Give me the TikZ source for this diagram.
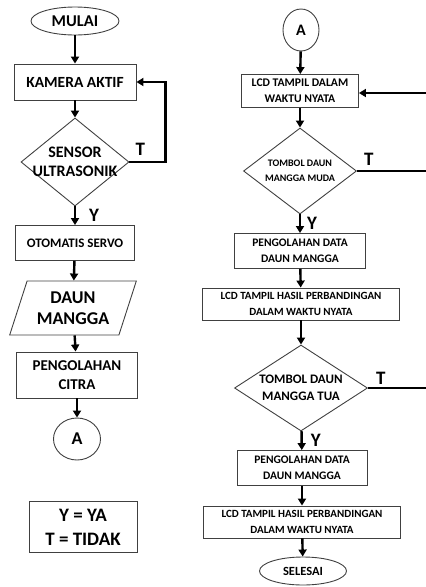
\documentclass[tikz,border=0pt]{standalone}
\usepackage{fontspec}
\setmainfont{Carlito}
\usetikzlibrary{shapes.geometric,arrows.meta}

\begin{document}
\begin{tikzpicture}[
    x=1pt, y=-1pt,
    txt/.style 2 args={font=\fontsize{#1}{#2}\selectfont\bfseries},
    terminal/.style={ellipse, draw=black!75, line width=0.9pt, inner sep=0pt},
    process/.style={rectangle, draw=black!75, line width=0.9pt, inner sep=0pt, align=center},
    decision/.style={diamond, draw=black!75, line width=0.9pt, inner sep=0pt},
    inout/.style={trapezium, trapezium left angle=67, trapezium right angle=113,
      trapezium stretches=true, draw=black!75, line width=0.9pt, inner sep=0pt, align=center},
    flow/.style={-{Triangle[width=8pt,length=7pt]}, line width=2.4pt},
    branch/.style={line width=2.4pt},
    answer/.style={txt={19}{19}, inner sep=0pt}
  ]
  \useasboundingbox (0,0) rectangle (426,587);

  % Left column: start, camera, sensor, servo, input, processing
  \node[terminal, minimum width=88pt, minimum height=28pt, txt={16.5}{18}] (mulai) at (75,21) {MULAI};
  \node[process, minimum width=122pt, minimum height=36pt, txt={15.5}{18}] (kamera) at (75,82) {KAMERA AKTIF};
  \node[decision, minimum width=108pt, minimum height=88pt,
    label={[align=center, txt={16}{18.5}]center:SENSOR\\ULTRASONIK}] (sensor) at (75,162) {};
  \node[process, minimum width=119pt, minimum height=35pt, txt={13}{15}] (servo) at (75,243) {OTOMATIS SERVO};
  \node[inout, minimum width=127pt, minimum height=54pt, txt={18}{20.5}] (daun) at (73,308) {DAUN\\MANGGA};
  \node[process, minimum width=121pt, minimum height=46pt, txt={15}{18.5}] (citra) at (77,375) {PENGOLAHAN\\CITRA};
  \node[terminal, minimum width=47pt, minimum height=42pt, txt={18}{20}] (konA) at (77,439) {A};

  % Legend
  \node[process, minimum width=108pt, minimum height=51pt, txt={19}{24}] (legenda) at (83,527) {Y = YA\\T = TIDAK};

  % Right column: display, buttons, comparison
  \node[terminal, minimum width=36pt, minimum height=42pt, txt={16}{18}] (konA2) at (301,30) {A};
  \node[process, minimum width=117pt, minimum height=33pt, txt={11.7}{16}] (lcd) at (300,91) {LCD TAMPIL DALAM\\WAKTU NYATA};
  \node[decision, minimum width=113pt, minimum height=86pt,
    label={[align=center, txt={10}{14.5}]center:TOMBOL DAUN\\MANGGA MUDA}] (muda) at (300,171) {};
  \node[process, minimum width=131pt, minimum height=35pt, txt={11.5}{16.5}] (olahA) at (300,251) {PENGOLAHAN DATA\\DAUN MANGGA};
  \node[process, minimum width=197pt, minimum height=32pt, txt={11}{16}] (hasilA) at (301,304) {LCD TAMPIL HASIL PERBANDINGAN\\DALAM WAKTU NYATA};
  \node[decision, minimum width=133pt, minimum height=86pt,
    label={[align=center, txt={13}{17}]center:TOMBOL DAUN\\MANGGA TUA}] (tua) at (301,388) {};
  \node[process, minimum width=130pt, minimum height=35pt, txt={11.5}{16.5}] (olahB) at (302,468) {PENGOLAHAN DATA\\DAUN MANGGA};
  \node[process, minimum width=197pt, minimum height=32pt, txt={11}{16}] (hasilB) at (302,522) {LCD TAMPIL HASIL PERBANDINGAN\\DALAM WAKTU NYATA};
  \node[terminal, minimum width=87pt, minimum height=28pt, txt={12.5}{14}] (selesai) at (303,571) {SELESAI};

  % Page edge where the return lines leave the picture
  \coordinate (tepi) at (426,0);
  \coordinate (balik) at (426,93);

  % Left flow
  \draw[flow] (mulai) -- (kamera);
  \draw[flow] (kamera) -- (sensor);
  \draw[flow] (sensor) -- node[answer, right=13pt] {Y} (servo);
  \draw[flow] (sensor.east) -- node[answer, pos=0, anchor=south west, xshift=5pt, yshift=5pt] {T}
    ++(36,0) |- (kamera.east);
  \draw[flow] (servo) -- (daun);
  \draw[flow] (daun) -- (citra);
  \draw[flow] (citra) -- (konA);

  % Right flow
  \draw[flow] (konA2) -- (lcd);
  \draw[flow] (balik) -- (balik -| lcd.east);
  \draw[flow] (lcd) -- (muda);
  \draw[branch] (muda.east) -- node[answer, pos=0, anchor=south west, xshift=6pt, yshift=4pt] {T} (muda.east -| tepi);
  \draw[flow] (muda) -- node[answer, right=6pt] {Y} (olahA);
  \draw[flow] (olahA) -- (hasilA);
  \draw[flow] (hasilA) -- (tua);
  \draw[branch] (tua.east) -- node[answer, pos=0, anchor=south west, xshift=7pt, yshift=2pt] {T} (tua.east -| tepi);
  \draw[flow] (tua) -- node[answer, right=8pt] {Y} (olahB);
  \draw[flow] (olahB) -- (hasilB);
  \draw[flow] (hasilB) -- (selesai);
\end{tikzpicture}
\end{document}
